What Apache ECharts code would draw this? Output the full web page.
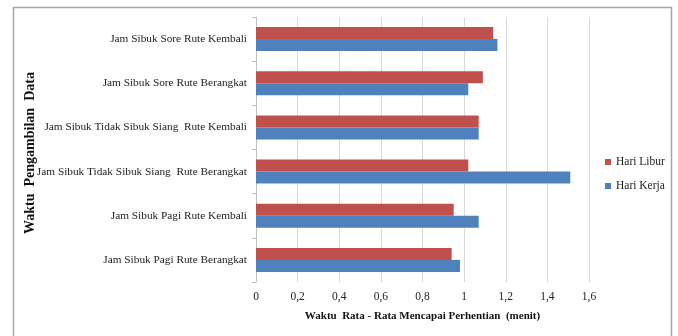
<!DOCTYPE html>
<html>
<head>
<meta charset="utf-8">
<script src="https://cdn.jsdelivr.net/npm/echarts@6/dist/echarts.min.js"></script>
<style>
  html, body { margin: 0; padding: 0; background: #fff; }
  #chart { width: 678px; height: 336px; }
</style>
</head>
<body>
<div id="chart"></div>
<script>
// Categories listed bottom to top, as the category axis draws them
const categories = [
  'Jam Sibuk Pagi Rute Berangkat',
  'Jam Sibuk Pagi Rute Kembali',
  'Jam Sibuk Tidak Sibuk Siang  Rute Berangkat',
  'Jam Sibuk Tidak Sibuk Siang  Rute Kembali',
  'Jam Sibuk Sore Rute Berangkat',
  'Jam Sibuk Sore Rute Kembali'
];
const hariLibur = [0.94, 0.95, 1.02, 1.07, 1.09, 1.14];
const hariKerja = [0.98, 1.07, 1.51, 1.07, 1.02, 1.16];
const seriesNames = ['Hari Libur', 'Hari Kerja'];
const xTitle = 'Waktu  Rata - Rata Mencapai Perhentian  (menit)';
const yTitle = 'Waktu  Pengambilan  Data';

const FONT = '"Liberation Serif", "Times New Roman", serif';
const chart = echarts.init(document.getElementById('chart'), null, { renderer: 'canvas' });

chart.setOption({
  animation: false,
  textStyle: { fontFamily: FONT },
  graphic: [
    {
      type: 'rect',
      shape: { x: 13.5, y: 7.5, width: 658, height: 345 },
      style: { fill: 'none', stroke: '#a6a6a6', lineWidth: 1.5 },
      silent: true
    },
    {
      // vertical title of the category axis
      type: 'text',
      x: 30,
      y: 153,
      rotation: Math.PI / 2,
      style: {
        text: yTitle,
        fontFamily: FONT,
        fontSize: 14,
        fontWeight: 'bold',
        fill: '#111',
        align: 'center',
        verticalAlign: 'middle'
      },
      silent: true
    }
  ],
  grid: { left: 256, right: 89, top: 17, bottom: 54, containLabel: false },
  legend: {
    orient: 'vertical',
    left: 605,
    top: 156,
    padding: 0,
    icon: 'rect',
    itemWidth: 6,
    itemHeight: 6,
    itemGap: 12,
    textStyle: { fontFamily: FONT, fontSize: 11.5, color: '#222' },
    data: seriesNames
  },
  xAxis: {
    type: 'value',
    min: 0,
    max: 1.6,
    interval: 0.2,
    name: xTitle,
    nameLocation: 'middle',
    nameGap: 29,
    nameTextStyle: { fontFamily: FONT, fontSize: 11, fontWeight: 'bold', color: '#111' },
    axisLine: { show: false },
    axisTick: { show: false },
    splitLine: { show: true, lineStyle: { color: '#d9d9d9', width: 1 } },
    axisLabel: {
      margin: 9,
      fontFamily: FONT,
      fontSize: 11.5,
      color: '#222',
      formatter: v => String(Math.round(v * 10) / 10).replace('.', ',')
    }
  },
  yAxis: {
    type: 'category',
    data: categories,
    axisLine: { show: true, lineStyle: { color: '#bfbfbf', width: 1 } },
    axisTick: { show: true, length: 4, lineStyle: { color: '#bfbfbf' } },
    axisLabel: { margin: 9, fontFamily: FONT, fontSize: 11.3, color: '#222' },
    splitLine: { show: false }
  },
  series: [
    {
      name: seriesNames[0],
      type: 'bar',
      data: hariLibur,
      barWidth: 12,
      barGap: '0%',
      itemStyle: { color: '#c0504d' }
    },
    {
      name: seriesNames[1],
      type: 'bar',
      data: hariKerja,
      barWidth: 12,
      barGap: '0%',
      itemStyle: { color: '#4f81bd' }
    }
  ]
});
</script>
</body>
</html>
